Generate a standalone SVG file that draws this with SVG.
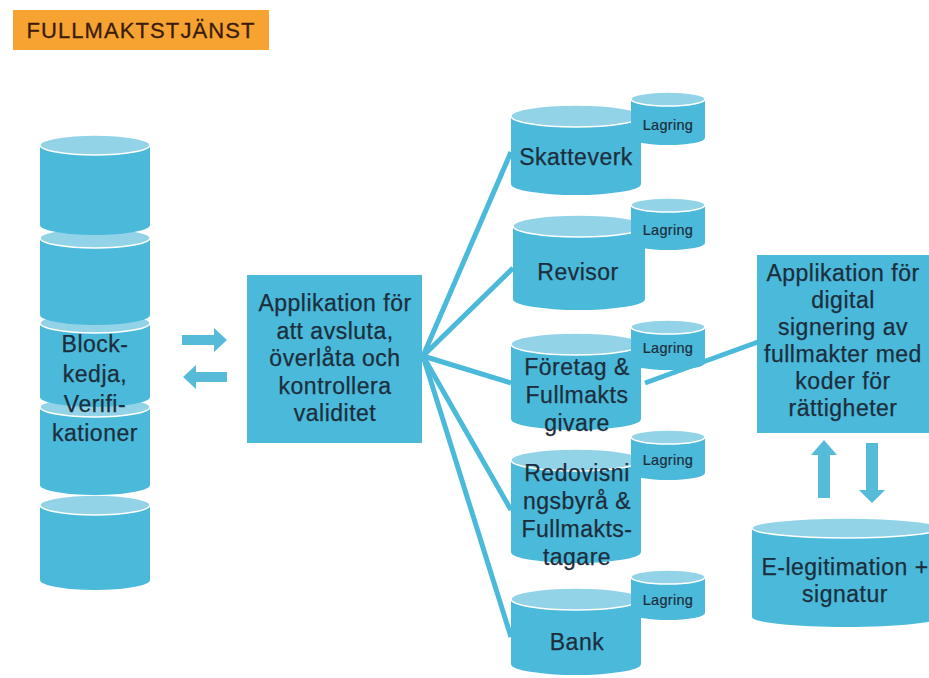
<svg xmlns="http://www.w3.org/2000/svg" width="929" height="678" viewBox="0 0 929 678">
<style>
.body{fill:#4ab9da;}
.top{fill:#93d3e8;stroke:#ffffff;stroke-width:1.5;}
.box{fill:#4ab9da;}
.t{font-family:"Liberation Sans",Arial,sans-serif;font-size:23px;fill:#1c2e3c;stroke:#1c2e3c;stroke-width:0.25;text-anchor:middle;letter-spacing:0.5px;}
.s{font-family:"Liberation Sans",Arial,sans-serif;font-size:14.5px;fill:#1c2e3c;stroke:#1c2e3c;stroke-width:0.2;text-anchor:middle;letter-spacing:0.3px;}
.conn{stroke:#4ab9da;stroke-width:5;fill:none;stroke-linecap:butt;}
.arr{fill:#55bbd9;}
</style>
<rect width="929" height="678" fill="#ffffff"/>
<g id="title">
<rect x="13" y="10" width="256" height="40" fill="#f7a331"/>
<text x="141" y="37.5" style="font-family:'Liberation Sans',Arial,sans-serif;font-size:22px;fill:#3b1c0c;stroke:#3b1c0c;stroke-width:0.3;text-anchor:middle;letter-spacing:1.1px;">FULLMAKTSTJÄNST</text>
</g>
<g id="connectors">
<line class="conn" x1="423" y1="356" x2="511" y2="152"/>
<line class="conn" x1="423" y1="356" x2="513" y2="268"/>
<line class="conn" x1="423" y1="356" x2="511" y2="383"/>
<line class="conn" x1="423" y1="356" x2="511" y2="510"/>
<line class="conn" x1="423" y1="356" x2="511" y2="637"/>
<line class="conn" x1="645" y1="383" x2="758" y2="342"/>
<polygon class="arr" points="182,335 214,335 214,328 227,340 214,352 214,345 182,345"/>
<polygon class="arr" points="227,372 196,372 196,365 183,377 196,389 196,382 227,382"/>
<polygon class="arr" points="818,498 818,455 811,455 824,440 837,455 830,455 830,498"/>
<polygon class="arr" points="866,443 878,443 878,490 885,490 872,503 859,490 866,490"/>
</g>
<g id="blockchain">
<path class="body" d="M40,505 V580 A55,10 0 0 0 150,580 V505 Z"/>
<ellipse class="top" cx="95" cy="505" rx="55" ry="10"/>
<path class="body" d="M40,407 V485 A55,10 0 0 0 150,485 V407 Z"/>
<ellipse class="top" cx="95" cy="407" rx="55" ry="10"/>
<path class="body" d="M40,323 V397 A55,10 0 0 0 150,397 V323 Z"/>
<ellipse class="top" cx="95" cy="323" rx="55" ry="10"/>
<path class="body" d="M40,238 V315 A55,10 0 0 0 150,315 V238 Z"/>
<ellipse class="top" cx="95" cy="238" rx="55" ry="10"/>
<path class="body" d="M40,145 V225 A55,10 0 0 0 150,225 V145 Z"/>
<ellipse class="top" cx="95" cy="145" rx="55" ry="10"/>
<text class="t" x="95" y="352">Block-</text>
<text class="t" x="95" y="382">kedja,</text>
<text class="t" x="95" y="412">Verifi-</text>
<text class="t" x="95" y="441">kationer</text>
</g>
<g id="app">
<rect class="box" x="247" y="275" width="175" height="168"/>
<text class="t" x="335" y="311">Applikation för</text>
<text class="t" x="335" y="338.5">att avsluta,</text>
<text class="t" x="335" y="366">överlåta och</text>
<text class="t" x="335" y="393.5">kontrollera</text>
<text class="t" x="335" y="421">validitet</text>
</g>
<g id="skatteverk">
<path class="body" d="M511,116 V184 A65,11 0 0 0 641,184 V116 Z"/>
<ellipse class="top" cx="576" cy="116" rx="65" ry="11"/>
<path class="body" d="M631,99 V138 A37,7 0 0 0 705,138 V99 Z"/>
<ellipse class="top" cx="668" cy="99" rx="37" ry="7"/>
<text class="s" x="668" y="130">Lagring</text>
<text class="t" x="576" y="165">Skatteverk</text>
</g>
<g id="revisor">
<path class="body" d="M513,226 V299 A66,11 0 0 0 645,299 V226 Z"/>
<ellipse class="top" cx="579" cy="226" rx="66" ry="11"/>
<path class="body" d="M631,205 V243 A37,7 0 0 0 705,243 V205 Z"/>
<ellipse class="top" cx="668" cy="205" rx="37" ry="7"/>
<text class="s" x="668" y="235">Lagring</text>
<text class="t" x="578" y="280">Revisor</text>
</g>
<g id="foretag">
<path class="body" d="M511,344 V419 A65,11 0 0 0 641,419 V344 Z"/>
<ellipse class="top" cx="576" cy="344" rx="65" ry="11"/>
<path class="body" d="M631,327 V363 A37,7 0 0 0 705,363 V327 Z"/>
<ellipse class="top" cx="668" cy="327" rx="37" ry="7"/>
<text class="s" x="668" y="353">Lagring</text>
<text class="t" x="577" y="375">Företag &amp;</text>
<text class="t" x="577" y="403">Fullmakts</text>
<text class="t" x="577" y="431">givare</text>
</g>
<g id="redovisning">
<path class="body" d="M511,460 V552 A65,11 0 0 0 641,552 V460 Z"/>
<ellipse class="top" cx="576" cy="460" rx="65" ry="11"/>
<path class="body" d="M631,437 V473 A37,7 0 0 0 705,473 V437 Z"/>
<ellipse class="top" cx="668" cy="437" rx="37" ry="7"/>
<text class="s" x="668" y="465">Lagring</text>
<text class="t" x="577" y="481">Redovisni</text>
<text class="t" x="577" y="509">ngsbyrå &amp;</text>
<text class="t" x="577" y="537">Fullmakts-</text>
<text class="t" x="577" y="565">tagare</text>
</g>
<g id="bank">
<path class="body" d="M511,599 V664 A65,11 0 0 0 641,664 V599 Z"/>
<ellipse class="top" cx="576" cy="599" rx="65" ry="11"/>
<path class="body" d="M631,577 V613 A37,7 0 0 0 705,613 V577 Z"/>
<ellipse class="top" cx="668" cy="577" rx="37" ry="7"/>
<text class="s" x="668" y="605">Lagring</text>
<text class="t" x="577" y="650">Bank</text>
</g>
<g id="signering">
<rect class="box" x="757" y="255" width="172" height="178"/>
<text class="t" x="843" y="281">Applikation för</text>
<text class="t" x="843" y="308">digital</text>
<text class="t" x="843" y="335">signering av</text>
<text class="t" x="843" y="362">fullmakter med</text>
<text class="t" x="843" y="389">koder för</text>
<text class="t" x="843" y="416">rättigheter</text>
</g>
<g id="elegitimation">
<path class="body" d="M752,528 V617 A94,10 0 0 0 940,617 V528 Z"/>
<ellipse class="top" cx="846" cy="528" rx="94" ry="10"/>
<text class="t" x="845" y="575">E-legitimation +</text>
<text class="t" x="845" y="602">signatur</text>
</g>
</svg>
